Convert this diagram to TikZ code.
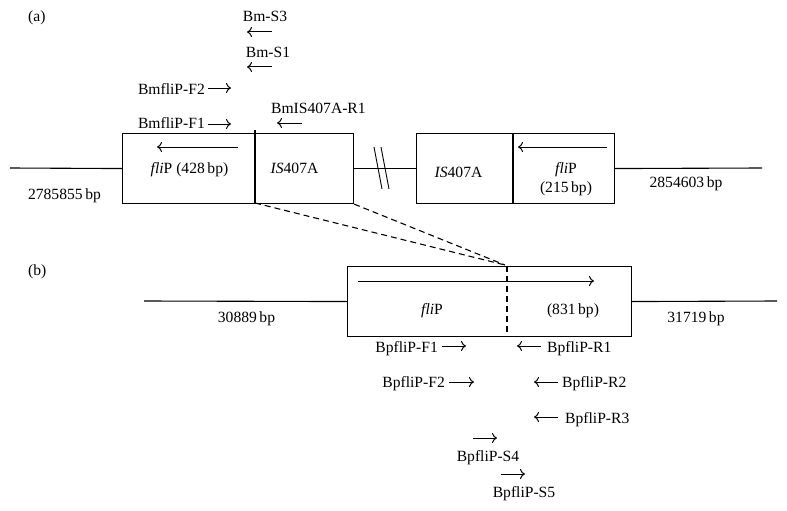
\documentclass[tikz,border=0pt]{standalone}
\usepackage{fontspec}
\setmainfont{Liberation Serif}
\usetikzlibrary{arrows.meta}
\begin{document}
\begin{tikzpicture}[x=1pt,y=-1pt,
  every node/.style={font=\fontsize{15.6}{18}\selectfont, inner sep=0pt},
  lbl/.style={anchor=base},
  box/.style={draw, line width=1.1pt, minimum width=#1, minimum height=70, anchor=north west},
  ln/.style={line width=1.1pt},
  pr/.style={line width=1pt, -{To[length=5,width=10]}},
  dsh/.style={line width=1.1pt, dash pattern=on 6pt off 4pt}]
\useasboundingbox (0,0) rectangle (787,511);
% ---------- (a)
\node[lbl, anchor=base west] (la) at (28,22) {(a)};
\node[box=231] (box1) at (122,133) {};
\node[box=198] (box2) at (416,133) {};
\coordinate (d1t) at (255,130);
\coordinate (d1b) at (255,203);
\draw[ln] (d1t) -- (d1b);
\coordinate (d2t) at (513,133);
\coordinate (d2b) at (513,203);
\draw[ln] (d2t) -- (d2b);
\coordinate (L1) at (10,168);
\coordinate (R2) at (762,168);
\draw[ln] (L1) -- (box1.west);
\draw[ln] (box1.east) -- (box2.west);
\draw[ln] (box2.east) -- (R2);
% break marks
\coordinate (s1a) at (374,147); \coordinate (s1b) at (382,189);
\coordinate (s2a) at (381,147); \coordinate (s2b) at (389,189);
\draw[line width=0.9pt] (s1a) -- (s1b);
\draw[line width=0.9pt] (s2a) -- (s2b);
% inside arrows
\coordinate (a1s) at (238,147); \coordinate (a1e) at (157,147);
\draw[pr] (a1s) -- (a1e);
\coordinate (a2s) at (607,147); \coordinate (a2e) at (518,147);
\draw[pr] (a2s) -- (a2e);
% box texts
\node[lbl] (t1) at (189.5,173) {\textit{fli}P (428\,bp)};
\node[lbl] (t2) at (294.5,173) {\textit{IS}407A};
\node[lbl] (t3) at (458.5,177) {\textit{IS}407A};
\node[lbl] (t4) at (566,173) {\textit{fli}P};
\node[lbl] (t5) at (566,192) {(215\,bp)};
\node[lbl] (t6) at (64.5,199) {2785855\,bp};
\node[lbl] (t7) at (686,187) {2854603\,bp};
% primers (a)
\node[lbl] (ps3) at (265,22) {Bm-S3};
\coordinate (ps3a) at (272,32); \coordinate (ps3b) at (247,32);
\draw[pr] (ps3a) -- (ps3b);
\node[lbl] (ps1) at (268,58) {Bm-S1};
\coordinate (ps1a) at (272,67); \coordinate (ps1b) at (247,67);
\draw[pr] (ps1a) -- (ps1b);
\node[lbl, anchor=base east] (pf2) at (205,94) {BmfliP-F2};
\coordinate (pf2a) at (208,88); \coordinate (pf2b) at (231,88);
\draw[pr] (pf2a) -- (pf2b);
\node[lbl, anchor=base east] (pf1) at (205,128) {BmfliP-F1};
\coordinate (pf1a) at (208,124); \coordinate (pf1b) at (231,124);
\draw[pr] (pf1a) -- (pf1b);
\node[lbl, anchor=base west] (pr1) at (271,113) {BmIS407A-R1};
\coordinate (pr1a) at (302,123); \coordinate (pr1b) at (277,123);
\draw[pr] (pr1a) -- (pr1b);
% ---------- (b)
\node[lbl, anchor=base west] (lb) at (28,275) {(b)};
\node[box=284] (boxb) at (347,266) {};
\coordinate (dbt) at (507,266);
\coordinate (dbb) at (507,336);
\draw[dsh] (dbt) -- (dbb);
\coordinate (conv) at (505,265);
\draw[dsh] (d1b) -- (conv);
\draw[dsh] (box1.south east) -- (conv);
\coordinate (L3) at (144,301);
\coordinate (R3) at (777,301);
\draw[ln] (L3) -- (boxb.west);
\draw[ln] (boxb.east) -- (R3);
\coordinate (abs) at (358,281); \coordinate (abe) at (594,281);
\draw[pr] (abs) -- (abe);
\node[lbl] (tb1) at (432,314) {\textit{fli}P};
\node[lbl] (tb2) at (573,314) {(831\,bp)};
\node[lbl] (tb3) at (246.5,322) {30889\,bp};
\node[lbl] (tb4) at (696,322) {31719\,bp};
% primers (b)
\node[lbl, anchor=base east] (bf1) at (438,352) {BpfliP-F1};
\coordinate (bf1a) at (442,346); \coordinate (bf1b) at (466,346);
\draw[pr] (bf1a) -- (bf1b);
\node[lbl, anchor=base west] (br1) at (547,352) {BpfliP-R1};
\coordinate (br1a) at (541,346); \coordinate (br1b) at (517,346);
\draw[pr] (br1a) -- (br1b);
\node[lbl, anchor=base east] (bf2) at (445,387) {BpfliP-F2};
\coordinate (bf2a) at (449,382); \coordinate (bf2b) at (474,382);
\draw[pr] (bf2a) -- (bf2b);
\node[lbl, anchor=base west] (br2) at (562,387) {BpfliP-R2};
\coordinate (br2a) at (558,382); \coordinate (br2b) at (534,382);
\draw[pr] (br2a) -- (br2b);
\node[lbl, anchor=base west] (br3) at (565,423) {BpfliP-R3};
\coordinate (br3a) at (558,417); \coordinate (br3b) at (534,417);
\draw[pr] (br3a) -- (br3b);
\coordinate (bs4a) at (473,438); \coordinate (bs4b) at (497,438);
\draw[pr] (bs4a) -- (bs4b);
\node[lbl] (bs4) at (488,461) {BpfliP-S4};
\coordinate (bs5a) at (501,474); \coordinate (bs5b) at (525,474);
\draw[pr] (bs5a) -- (bs5b);
\node[lbl] (bs5) at (524,497) {BpfliP-S5};
\end{tikzpicture}
\end{document}
